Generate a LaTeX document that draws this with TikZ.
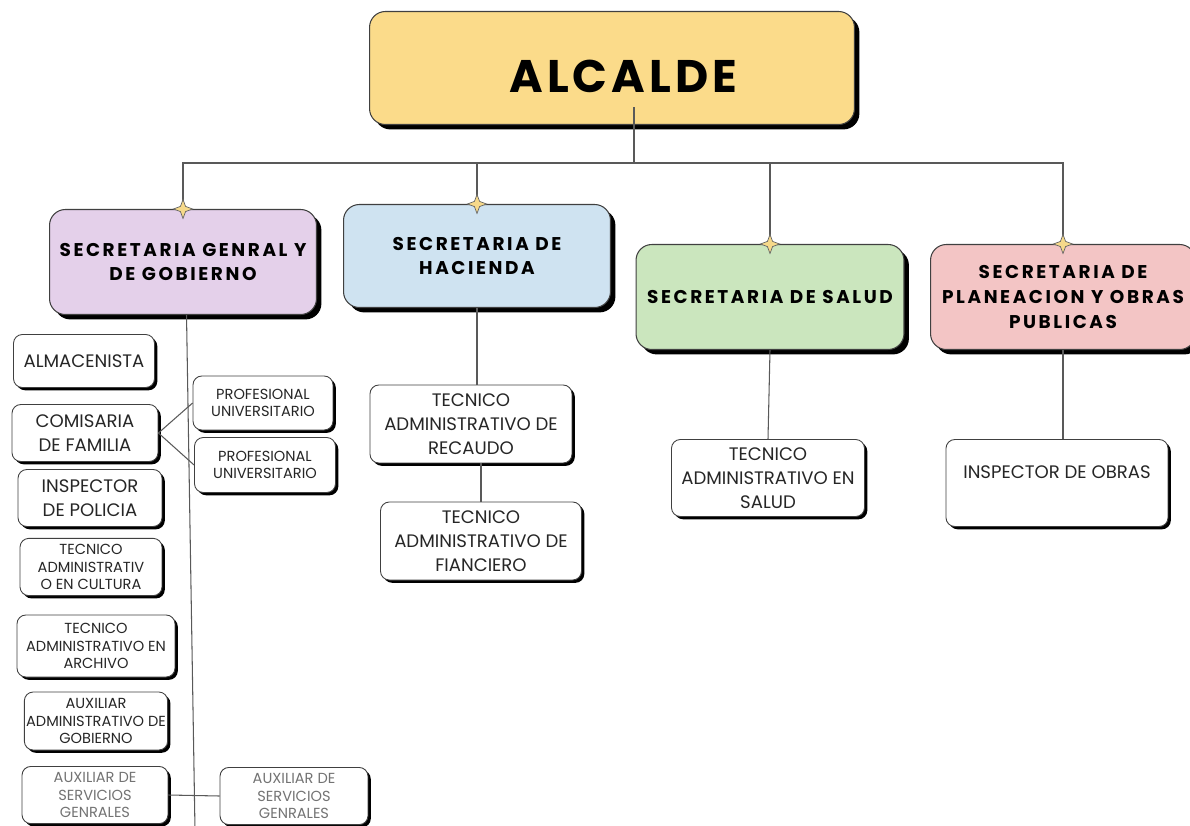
\documentclass[tikz,border=0pt]{standalone}
\usepackage{fontspec}
\setmainfont{Poppins}
\usetikzlibrary{shapes.geometric, shadows, positioning}
\definecolor{alcaldeyellow}{HTML}{FBDB8A}
\definecolor{gobpurple}{HTML}{E4D0EA}
\definecolor{hacblue}{HTML}{CFE3F1}
\definecolor{salgreen}{HTML}{CBE6BE}
\definecolor{plapink}{HTML}{F3C5C5}
\definecolor{sparkyellow}{HTML}{F6D98A}

\begin{document}
\begin{tikzpicture}[x=0.02cm, y=-0.02cm,
  head/.style={rectangle, draw=black!75, line width=0.6pt, rounded corners=9pt, align=center,
               font=\bfseries\fontsize{10.5}{14}\selectfont\addfontfeature{LetterSpace=14},
               drop shadow={shadow xshift=2.8pt, shadow yshift=-2.8pt, fill=black, opacity=1}},
  job/.style={rectangle, draw=black!75, line width=0.5pt, rounded corners=5pt, fill=white, align=center,
              text=black!85, font=\fontsize{10.3}{13.5}\selectfont,
              drop shadow={shadow xshift=1.6pt, shadow yshift=-1.6pt, fill=black, opacity=1}},
  tiny/.style={job, inner xsep=1pt, font=\fontsize{8.3}{10}\selectfont},
  spark/.style={star, star points=4, star point ratio=2.6, minimum size=0.38cm, inner sep=0pt,
                draw=black!60, line width=0.4pt, fill=sparkyellow},
  link/.style={draw=black!65, line width=0.6pt}
]
\useasboundingbox (0,0) rectangle (1190,825);
% mayor
\node[head, fill=alcaldeyellow, minimum width=9.7cm, minimum height=2.26cm, text height=28pt, text depth=0pt,
      font=\bfseries\fontsize{26}{30}\selectfont\addfontfeature{LetterSpace=9}] (alcalde) at (612,68) {\hspace*{13pt}ALCALDE};
% secretarias
\node[head, fill=gobpurple, minimum width=5.34cm, minimum height=2.1cm] (secgob) at (183,262) {SECRETARIA GENRAL Y\\DE GOBIERNO};
\node[head, fill=hacblue, minimum width=5.34cm, minimum height=2.06cm] (sechac) at (477,256) {SECRETARIA DE\\HACIENDA};
\node[head, fill=salgreen, minimum width=5.36cm, minimum height=2.1cm] (secsal) at (770,297) {SECRETARIA DE SALUD};
\node[head, fill=plapink, minimum width=5.3cm, minimum height=2.1cm] (secpla) at (1063,297) {SECRETARIA DE\\PLANEACION Y OBRAS\\PUBLICAS};
% gobierno
\node[job, minimum width=2.82cm, minimum height=1.06cm] (almac) at (84,361) {ALMACENISTA};
\node[job, minimum width=2.92cm, minimum height=1.14cm] (comis) at (85,433) {COMISARIA\\DE FAMILIA};
\node[job, minimum width=2.88cm, minimum height=1.14cm] (inspol) at (90,498) {INSPECTOR\\DE POLICIA};
\node[tiny, minimum width=2.84cm, minimum height=1.14cm] (teccul) at (91,567) {TECNICO\\ADMINISTRATIV\\O EN CULTURA};
\node[tiny, minimum width=3.16cm, minimum height=1.24cm] (tecarch) at (96,646) {TECNICO\\ADMINISTRATIVO EN\\ARCHIVO};
\node[tiny, minimum width=2.86cm, minimum height=1.16cm] (auxgob) at (96,721) {AUXILIAR\\ADMINISTRATIVO DE\\GOBIERNO};
\node[tiny, text=black!55, minimum width=2.92cm, minimum height=1.12cm] (auxserv) at (95,795) {AUXILIAR DE\\SERVICIOS\\GENRALES};
\node[tiny, minimum width=2.8cm, minimum height=1.08cm] (prof) at (263,403) {PROFESIONAL\\UNIVERSITARIO};
\node[tiny, minimum width=2.82cm, minimum height=1.1cm] (profb) at (265,465) {PROFESIONAL\\UNIVERSITARIO};
\node[tiny, text=black!55, minimum width=2.96cm, minimum height=1.12cm] (auxservb) at (294,796) {AUXILIAR DE\\SERVICIOS\\GENRALES};
% hacienda, salud, planeacion
\node[job, minimum width=4.04cm, minimum height=1.56cm] (tecrec) at (471,424) {TECNICO\\ADMINISTRATIVO DE\\RECAUDO};
\node[job, minimum width=4.02cm, minimum height=1.56cm] (tecfin) at (481,541) {TECNICO\\ADMINISTRATIVO DE\\FIANCIERO};
\node[job, minimum width=3.86cm, minimum height=1.54cm] (tecsal) at (768,478) {TECNICO\\ADMINISTRATIVO EN\\SALUD};
\node[job, minimum width=4.44cm, minimum height=1.74cm, text depth=12pt] (inspobr) at (1057,483) {INSPECTOR DE OBRAS};

% connectors
\coordinate (bus) at (634,163);
\coordinate (gobend) at (195,830);
\draw[link] (bus |- alcalde.south) ++(0,-18) -- (bus);
\draw[link] (secgob.north) -- (secgob.north |- bus) -- (secpla.north |- bus) -- (secpla.north);
\draw[link] (sechac.north) -- (sechac.north |- bus);
\draw[link] (secsal.north) -- (secsal.north |- bus);
\draw[link] ([xshift=2pt]secgob.south) -- (gobend);
\draw[link] (comis.east) -- (prof.west);
\draw[link] (comis.east) -- (profb.west);
\draw[link] (auxserv.east) -- (auxservb.west);
\draw[link] (sechac.south) -- (sechac.south |- tecrec.north);
\draw[link] (tecfin.north |- tecrec.south) -- (tecfin.north);
\draw[link] (secsal.south) -- (tecsal.north);
\draw[link] (secpla.south) -- (secpla.south |- inspobr.north);
% sparks
\node[spark] (sparkgob) at (secgob.north) {};
\node[spark] (sparkhac) at (sechac.north) {};
\node[spark] (sparksal) at (secsal.north) {};
\node[spark] (sparkpla) at (secpla.north) {};
\end{tikzpicture}
\end{document}
